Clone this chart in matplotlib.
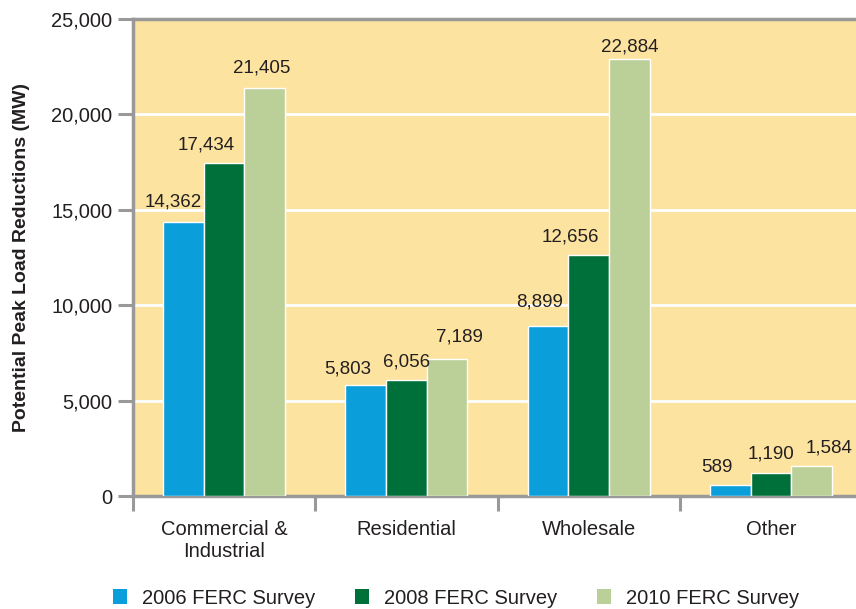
import matplotlib
matplotlib.use("Agg")
import matplotlib.pyplot as plt
import numpy as np
from matplotlib.patches import Patch

plt.rcParams['font.family'] = ['Liberation Sans', 'DejaVu Sans']

categories = ["Commercial &\nIndustrial", "Residential", "Wholesale", "Other"]
series_names = ["2006 FERC Survey", "2008 FERC Survey", "2010 FERC Survey"]
values_2006 = [14362, 5803, 8899, 589]
values_2008 = [17434, 6056, 12656, 1190]
values_2010 = [21405, 7189, 22884, 1584]
y_ticks = [0, 5000, 10000, 15000, 20000, 25000]

colors = ["#0a9edb", "#00703a", "#bbcf98"]
series = [values_2006, values_2008, values_2010]

# value-label nudges (pixels), per series then per category
label_dx = [[-10, -18, -8, -13], [-18, 0, -18, 0], [-3, 12, 0, 18]]
label_dy = [[15, 12, 20, 13], [14, 14, 13, 15], [15, 17, 8, 13]]

TEXT = "#231f20"
GREY = "#999999"

W, H = 856, 609
fig = plt.figure(figsize=(W / 100, H / 100), dpi=100)
left, right, top, bottom = 133, 862, 19, 496
ax = fig.add_axes([left / W, 1 - bottom / H, (right - left) / W, (bottom - top) / H])
ax.set_facecolor("#fde3a0")

x = np.arange(len(categories))
bw = 0.223
for i, (vals, col) in enumerate(zip(series, colors)):
    pos = x + (i - 1) * bw
    ax.bar(pos, vals, width=bw, color=col, edgecolor="white", linewidth=1, zorder=3)
    for j, (p, v) in enumerate(zip(pos, vals)):
        ax.annotate(f"{v:,}", (p, v), xytext=(label_dx[i][j], label_dy[i][j]),
                    textcoords="offset pixels", ha="center", va="baseline",
                    fontsize=13.5, color=TEXT, zorder=4)

ax.set_xlim(-0.5, len(categories) - 0.5)
ax.set_ylim(0, 25000)
ax.set_yticks(y_ticks)
ax.set_yticklabels([f"{t:,}" for t in y_ticks])
ax.yaxis.grid(True, color="white", linewidth=2, zorder=1)
ax.set_axisbelow(True)

ax.set_xticks(np.arange(len(categories) + 1) - 0.5, minor=False)
ax.set_xticklabels([])
ax.set_xticks(x, minor=True)
ax.set_xticklabels(categories, minor=True)
ax.tick_params(axis="x", which="major", length=10.5, width=2.2, color=GREY)
ax.tick_params(axis="x", which="minor", length=0, pad=17, labelsize=14.5, labelcolor=TEXT)
ax.tick_params(axis="y", length=11, width=2.2, color=GREY, labelsize=14.5,
               labelcolor=TEXT, pad=4)

for s in ["left", "top", "bottom"]:
    ax.spines[s].set_color(GREY)
    ax.spines[s].set_linewidth(2.5)
ax.spines["right"].set_visible(False)

ax.set_ylabel("Potential Peak Load Reductions (MW)", fontsize=14, fontweight="bold",
              color=TEXT, labelpad=15)

handles = [Patch(facecolor=c, edgecolor="none") for c in colors]
fig.legend(handles, series_names, loc="center", bbox_to_anchor=(456 / W, 1 - 598 / H),
           ncol=3, frameon=False, fontsize=14.5, handlelength=0.7, handleheight=0.7,
           columnspacing=1.95, handletextpad=0.75, labelcolor=TEXT,
           borderpad=0, borderaxespad=0)

fig.savefig("out.png", dpi=100)
